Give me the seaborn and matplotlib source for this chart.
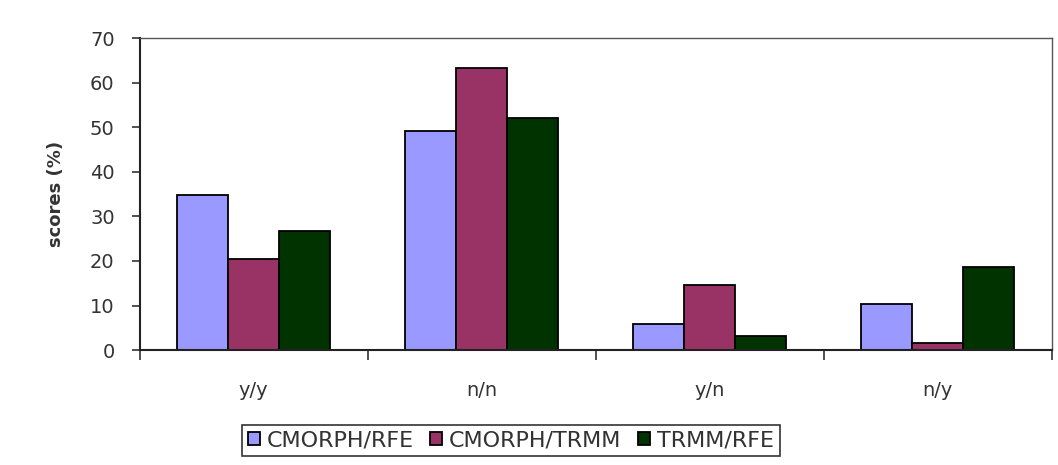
import matplotlib
matplotlib.use("Agg")
import matplotlib.pyplot as plt
import seaborn as sns
import pandas as pd
from matplotlib.ticker import FixedLocator

categories = ["y/y", "n/n", "y/n", "n/y"]
series = ["CMORPH/RFE", "CMORPH/TRMM", "TRMM/RFE"]
cmorph_rfe = [34.8, 49.1, 5.8, 10.3]
cmorph_trmm = [20.4, 63.3, 14.6, 1.6]
trmm_rfe = [26.7, 52.0, 3.1, 18.6]
colors = ["#9999FF", "#993366", "#003300"]

rows = []
for name, vals in zip(series, [cmorph_rfe, cmorph_trmm, trmm_rfe]):
    for cat, v in zip(categories, vals):
        rows.append({"cat": cat, "series": name, "score": v})
df = pd.DataFrame(rows)

sns.set_style("white")
plt.rcParams["font.family"] = ["DejaVu Sans"]

fig = plt.figure(figsize=(10.58, 4.65), dpi=100)
ax = fig.add_axes([0.132, 0.247, 0.862, 0.671])

sns.barplot(data=df, x="cat", y="score", hue="series", order=categories,
            hue_order=series, palette=colors, width=0.67, gap=0,
            edgecolor="black", linewidth=1.3, saturation=1, ax=ax)

ax.set_xlim(-0.5, 3.5)
ax.set_ylim(0, 70)
ax.set_yticks(range(0, 71, 10))
ax.set_xlabel("")
ax.set_ylabel("scores (%)", fontsize=13, fontweight="bold", color="#333333",
              labelpad=18)
ax.tick_params(axis="y", labelsize=14, length=6, width=1.2, direction="out",
               colors="#333333", left=True, pad=12)
ax.tick_params(axis="x", which="major", labelsize=14, length=0, pad=22,
               colors="#333333")
ax.xaxis.set_minor_locator(FixedLocator([-0.5, 0.5, 1.5, 2.5, 3.5]))
ax.tick_params(axis="x", which="minor", length=7, width=1.2, direction="out",
               bottom=True, color="#333333")

for side in ["left", "bottom"]:
    ax.spines[side].set_color("#222222")
    ax.spines[side].set_linewidth(1.5)
for side in ["top", "right"]:
    ax.spines[side].set_color("#555555")
    ax.spines[side].set_linewidth(1.0)

leg = ax.legend(loc="upper center", bbox_to_anchor=(0.407, -0.24), ncol=3,
                frameon=True, fancybox=False, fontsize=16, handlelength=0.55,
                handleheight=0.55, handletextpad=0.3, columnspacing=0.75,
                borderpad=0.25, borderaxespad=0, edgecolor="black")
leg.get_frame().set_linewidth(1.2)
for t in leg.get_texts():
    t.set_color("#333333")

fig.savefig("out.png", dpi=100)
